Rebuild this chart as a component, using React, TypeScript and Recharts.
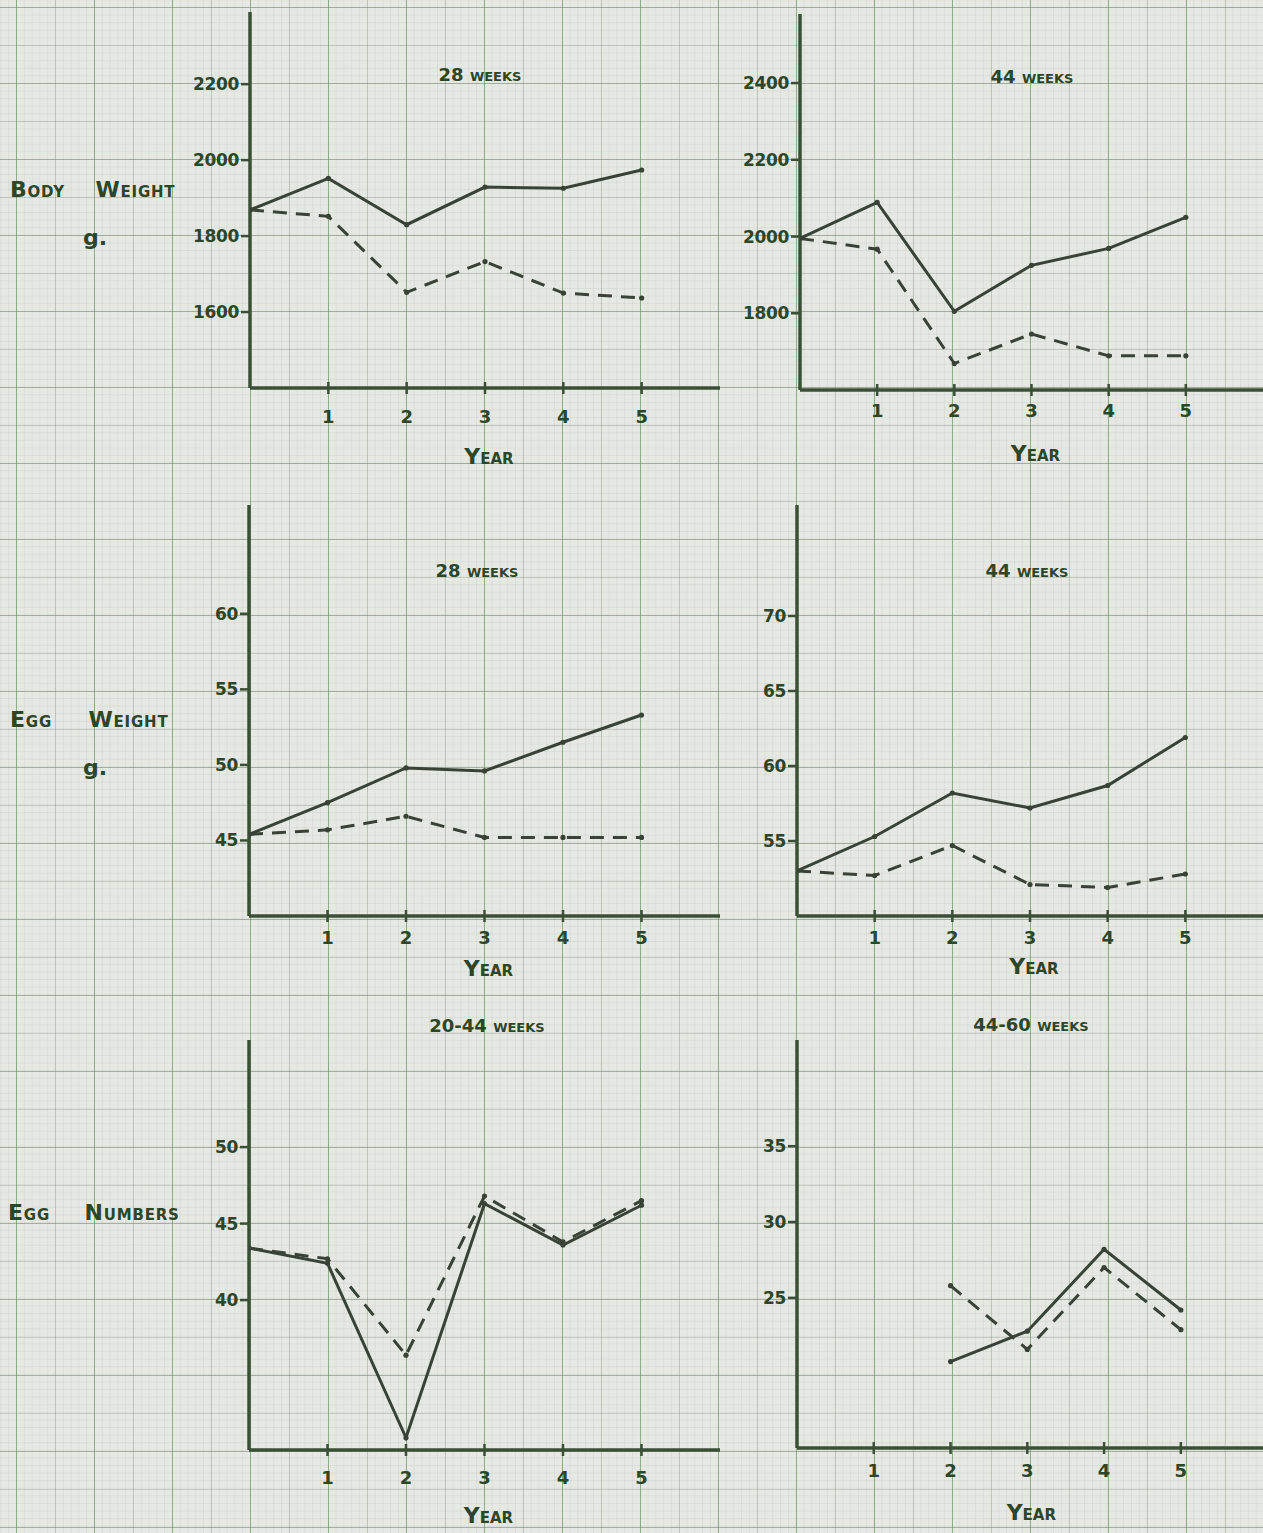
import React from 'react';
import { LineChart, Line, XAxis, YAxis } from 'recharts';

// ---------- data ----------
const years = [0, 1, 2, 3, 4, 5];
const yearTicks = [1, 2, 3, 4, 5];

const bodyWeight28Solid = [1869, 1952, 1830, 1929, 1926, 1974];
const bodyWeight28Dashed = [1869, 1852, 1652, 1733, 1650, 1637];
const bodyWeight44Solid = [1995, 2089, 1805, 1925, 1969, 2050];
const bodyWeight44Dashed = [1995, 1967, 1669, 1746, 1689, 1689];

const eggWeight28Solid = [45.4, 47.5, 49.8, 49.6, 51.5, 53.3];
const eggWeight28Dashed = [45.4, 45.7, 46.6, 45.2, 45.2, 45.2];
const eggWeight44Solid = [53.0, 55.3, 58.2, 57.2, 58.7, 61.9];
const eggWeight44Dashed = [53.0, 52.7, 54.7, 52.1, 51.9, 52.8];

const eggNumbers2044Solid = [43.4, 42.4, 31.0, 46.3, 43.6, 46.2];
const eggNumbers2044Dashed = [43.4, 42.7, 36.4, 46.8, 43.8, 46.5];
const eggNumbers4460Solid = [null, null, 20.8, 22.8, 28.2, 24.2];
const eggNumbers4460Dashed = [null, null, 25.8, 21.6, 27.0, 22.9];

const bodyWeight28Ticks = [1600, 1800, 2000, 2200];
const bodyWeight44Ticks = [1800, 2000, 2200, 2400];
const eggWeight28Ticks = [45, 50, 55, 60];
const eggWeight44Ticks = [55, 60, 65, 70];
const eggNumbers2044Ticks = [40, 45, 50];
const eggNumbers4460Ticks = [25, 30, 35];

const panelTitles = ['28 weeks', '44 weeks', '28 weeks', '44 weeks', '20-44 weeks', '44-60 weeks'];
const rowLabels = ['Body Weight', 'Egg Weight', 'Egg Numbers'];
const unitLabel = 'g.';
const xAxisName = 'Year';

// ---------- styles ----------
const INK = '#394236';
const AXIS = '#3a4f36';
const TEXT = '#2d4529';
const FONT = '"DejaVu Sans", "Noto Sans", sans-serif';

const panels = [
  { left: 150, top: 0, width: 570, height: 480, marginTop: 12, xh: 92, xMax: 6, domain: [1400, 2390], ticks: bodyWeight28Ticks, solid: bodyWeight28Solid, dashed: bodyWeight28Dashed, tickDy: 35, yearDy: 76, title: panelTitles[0], titleX: 480, titleY: 75 },
  { left: 700, top: 0, width: 563, height: 480, marginTop: 14, xh: 90, xMax: 6, domain: [1600, 2580], ticks: bodyWeight44Ticks, solid: bodyWeight44Solid, dashed: bodyWeight44Dashed, tickDy: 27, yearDy: 71, title: panelTitles[1], titleX: 1032, titleY: 77 },
  { left: 149, top: 495, width: 571, height: 501, marginTop: 10, xh: 80, xMax: 6, domain: [40, 67.2], ticks: eggWeight28Ticks, solid: eggWeight28Solid, dashed: eggWeight28Dashed, tickDy: 28, yearDy: 60, title: panelTitles[2], titleX: 477, titleY: 571 },
  { left: 697, top: 495, width: 566, height: 501, marginTop: 10, xh: 80, xMax: 6, domain: [50, 77.4], ticks: eggWeight44Ticks, solid: eggWeight44Solid, dashed: eggWeight44Dashed, tickDy: 28, yearDy: 58, title: panelTitles[3], titleX: 1027, titleY: 571 },
  { left: 149, top: 1030, width: 571, height: 503, marginTop: 10, xh: 83, xMax: 6, domain: [30.2, 57], ticks: eggNumbers2044Ticks, solid: eggNumbers2044Solid, dashed: eggNumbers2044Dashed, tickDy: 34, yearDy: 73, title: panelTitles[4], titleX: 487, titleY: 1026 },
  { left: 697, top: 1030, width: 566, height: 503, marginTop: 10, xh: 85, xMax: 6.07, domain: [15.1, 42], ticks: eggNumbers4460Ticks, solid: eggNumbers4460Solid, dashed: eggNumbers4460Dashed, tickDy: 29, yearDy: 72, title: panelTitles[5], titleX: 1031, titleY: 1025 },
];

const rowLabelPos = [
  { x: 10, y: 190, gx: 95, gy: 238, ws: 22 },
  { x: 10, y: 720, gx: 95, gy: 768, ws: 28 },
  { x: 8, y: 1213, gx: -1, gy: -1, ws: 26 },
];

const XTick = (props: any) => {
  const { x, y, payload, labelDy } = props;
  return (
    <g>
      <line x1={x} x2={x} y1={y - 6} y2={y + 6} stroke={AXIS} strokeWidth={2.5} />
      <text x={x} y={y + labelDy} textAnchor="middle" fill={TEXT} fontFamily={FONT} fontWeight={700} fontSize={18}>
        {payload.value}
      </text>
    </g>
  );
};

const YTick = (props: any) => {
  const { x, y, payload } = props;
  return (
    <g>
      <line x1={x - 9} x2={x} y1={y} y2={y} stroke={AXIS} strokeWidth={2.5} />
      <text x={x - 11} y={y + 6} textAnchor="end" fill={TEXT} fontFamily={FONT} fontWeight={700} fontSize={17} letterSpacing={-0.3}>
        {payload.value}
      </text>
    </g>
  );
};

function Panel({ cfg }: { cfg: any }) {
  const data = years.map((yr, i) => ({ year: yr, solid: cfg.solid[i], dashed: cfg.dashed[i] }));
  return (
    <div style={{ position: 'absolute', left: cfg.left, top: cfg.top }}>
      <LineChart width={cfg.width} height={cfg.height} data={data} margin={{ top: cfg.marginTop, right: 0, bottom: 0, left: 0 }}>
        <XAxis
          type="number"
          dataKey="year"
          domain={[0, cfg.xMax]}
          ticks={yearTicks}
          allowDataOverflow
          interval={0}
          height={cfg.xh}
          axisLine={{ stroke: AXIS, strokeWidth: 3.5 }}
          tickLine={false}
          tickSize={0}
          tickMargin={0}
          tick={(p: any) => <XTick {...p} labelDy={cfg.tickDy} />}
          label={{
            content: (p: any) => {
              const vb = p.viewBox || { x: 0, y: 0, width: 0 };
              return (
                <text x={vb.x + (vb.width * 6) / cfg.xMax / 2 + 4} y={vb.y + cfg.yearDy} textAnchor="middle" fill={TEXT} fontFamily={FONT} fontWeight={700} fontSize={22} style={{ fontVariant: 'small-caps' }}>
                  {xAxisName}
                </text>
              );
            },
          }}
        />
        <YAxis
          type="number"
          domain={cfg.domain}
          ticks={cfg.ticks}
          allowDataOverflow
          interval={0}
          width={100}
          axisLine={{ stroke: AXIS, strokeWidth: 3.5 }}
          tickLine={false}
          tickSize={0}
          tickMargin={0}
          tick={(p: any) => <YTick {...p} />}
        />
        <Line
          type="linear"
          dataKey="solid"
          stroke={INK}
          strokeWidth={3}
          dot={{ r: 2.6, fill: INK, stroke: 'none' }}
          activeDot={false}
          isAnimationActive={false}
          connectNulls={false}
        />
        <Line
          type="linear"
          dataKey="dashed"
          stroke={INK}
          strokeWidth={3}
          strokeDasharray="14 9"
          dot={{ r: 2.6, fill: INK, stroke: 'none' }}
          activeDot={false}
          isAnimationActive={false}
          connectNulls={false}
        />
      </LineChart>
    </div>
  );
}

const gridBg: React.CSSProperties = {
  backgroundColor: '#e6e9e3',
  backgroundImage: [
    'linear-gradient(to right, rgba(95,150,85,0.5) 1.5px, transparent 1.5px)',
    'linear-gradient(to bottom, rgba(105,125,100,0.35) 1.5px, transparent 1.5px)',
    'linear-gradient(to right, rgba(115,128,110,0.28) 1px, transparent 1px)',
    'linear-gradient(to bottom, rgba(115,128,110,0.28) 1px, transparent 1px)',
    'linear-gradient(to right, rgba(135,145,130,0.12) 1px, transparent 1px)',
    'linear-gradient(to bottom, rgba(135,145,130,0.12) 1px, transparent 1px)',
  ].join(','),
  backgroundSize: '78px 76px, 78px 76px, 39px 38px, 39px 38px, 7.8px 7.6px, 7.8px 7.6px',
  backgroundPosition: '16px 7px, 16px 7px, 16px 7px, 16px 7px, 16px 7px, 16px 7px',
};

const textStyle: React.CSSProperties = {
  position: 'absolute',
  color: TEXT,
  fontFamily: FONT,
  fontWeight: 700,
  fontVariant: 'small-caps',
  whiteSpace: 'nowrap',
  lineHeight: 1,
};

export default function App() {
  return (
    <div style={{ position: 'absolute', left: 0, top: 0, width: 1263, height: 1533, overflow: 'hidden', ...gridBg }}>
      {panels.map((cfg, i) => (
        <Panel key={i} cfg={cfg} />
      ))}
      {panels.map((cfg, i) => (
        <div key={'t' + i} style={{ ...textStyle, left: cfg.titleX, top: cfg.titleY, transform: 'translate(-50%, -50%)', fontSize: 18 }}>
          {cfg.title}
        </div>
      ))}
      {rowLabels.map((lab, i) => (
        <div key={'r' + i} style={{ ...textStyle, left: rowLabelPos[i].x, top: rowLabelPos[i].y, transform: 'translateY(-50%)', fontSize: 22, letterSpacing: 0.8, wordSpacing: rowLabelPos[i].ws }}>
          {lab}
        </div>
      ))}
      {rowLabelPos.filter((p) => p.gx > 0).map((p, i) => (
        <div key={'g' + i} style={{ ...textStyle, left: p.gx, top: p.gy, transform: 'translate(-50%, -50%)', fontSize: 22, fontVariant: 'normal' }}>
          {unitLabel}
        </div>
      ))}
    </div>
  );
}
